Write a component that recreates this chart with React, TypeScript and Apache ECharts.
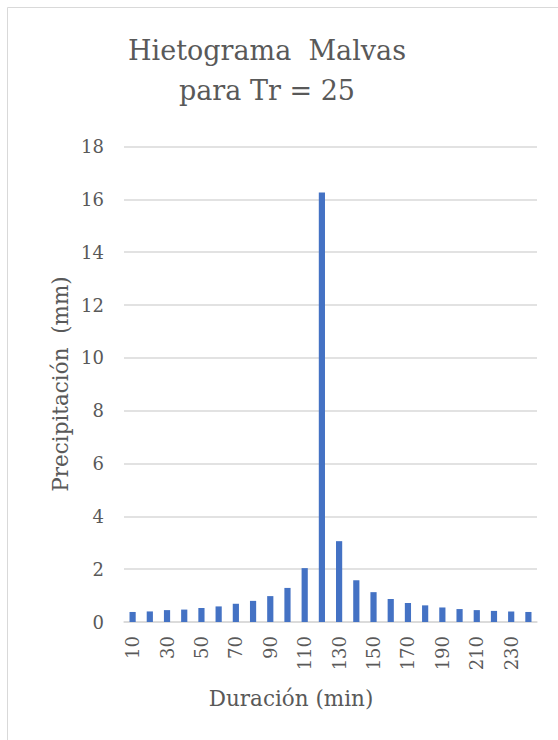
import React, { useEffect, useRef } from "react";
import * as echarts from "echarts";

const categories = ["10","20","30","40","50","60","70","80","90","100","110","120","130","140","150","160","170","180","190","200","210","220","230","240"];
const precipitation = [0.38,0.40,0.45,0.47,0.53,0.59,0.69,0.80,0.98,1.29,2.04,16.26,3.06,1.58,1.13,0.87,0.72,0.63,0.55,0.49,0.45,0.42,0.40,0.38];
const titleLines = ["Hietograma  Malvas", "para Tr = 25"];
const xAxisTitle = "Duración (min)";
const yAxisTitle = "Precipitación  (mm)";

const FONT = "DejaVu Serif";
const TEXT = "#595959";

export default function App() {
  const ref = useRef<HTMLDivElement>(null);
  useEffect(() => {
    const chart = echarts.init(ref.current!, null, { renderer: "svg" });
    const txt = (x: number, y: number, text: string, size: number, rot = 0) => ({
      type: "text", x, y, rotation: rot,
      style: { text, fontFamily: FONT, fontSize: size, fill: TEXT, align: "center", verticalAlign: "middle" },
    });
    chart.setOption({
      animation: false,
      backgroundColor: "#ffffff",
      textStyle: { fontFamily: FONT },
      grid: { left: 124, right: 21, top: 146.5, bottom: 118, containLabel: false },
      graphic: [
        { type: "rect", shape: { x: 7.5, y: 7.5, width: 700, height: 900 }, style: { fill: "none", stroke: "#d9d9d9", lineWidth: 1 }, silent: true },
        txt(267, 50, titleLines[0], 27),
        txt(267, 90, titleLines[1], 27),
        txt(291, 698, xAxisTitle, 21.5),
        txt(60, 384, yAxisTitle, 21.5, Math.PI / 2),
      ],
      xAxis: {
        type: "category",
        data: categories,
        axisLine: { show: true, lineStyle: { color: "#d9d9d9", width: 1.5 } },
        axisTick: { show: false },
        axisLabel: { interval: 1, rotate: 90, margin: 14, fontSize: 18, fontFamily: FONT, color: TEXT },
      },
      yAxis: {
        type: "value",
        min: 0,
        max: 18,
        interval: 2,
        axisLine: { show: false },
        axisTick: { show: false },
        splitLine: { lineStyle: { color: "#d9d9d9", width: 1.5 } },
        axisLabel: { margin: 20, fontSize: 18, fontFamily: FONT, color: TEXT },
      },
      series: [
        {
          type: "bar",
          data: precipitation,
          barWidth: "36%",
          itemStyle: { color: "#4472C4" },
        },
      ],
    });
    return () => chart.dispose();
  }, []);
  return <div ref={ref} style={{ position: "absolute", left: 0, top: 0, width: 558, height: 740 }} />;
}
